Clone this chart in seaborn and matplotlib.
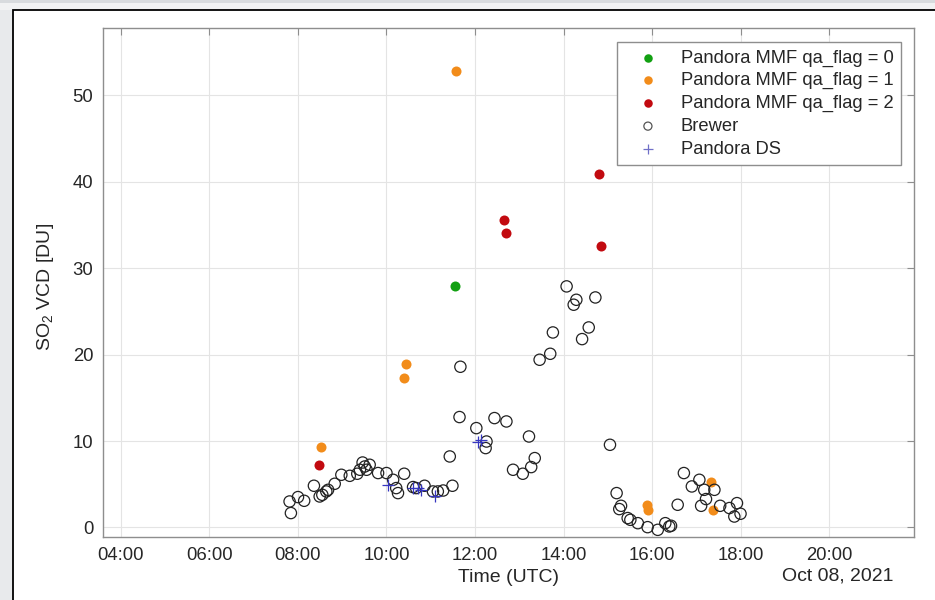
import numpy as np
import pandas as pd
import matplotlib
matplotlib.use("Agg")
import matplotlib.pyplot as plt
import matplotlib.dates as mdates
from matplotlib.patches import Rectangle
import seaborn as sns

# ---------------- data (hours UTC on Oct 08, 2021 ; SO2 VCD in DU) ----------------
qa0_hours = [11.54]
qa0_vcd = [27.97]

qa1_hours = [8.53, 10.43, 10.39, 11.58, 15.88, 15.92, 17.33, 17.37]
qa1_vcd = [9.26, 18.95, 17.33, 52.86, 2.63, 2.06, 5.32, 2.05]

qa2_hours = [8.48, 12.65, 12.71, 14.81, 14.85]
qa2_vcd = [7.26, 35.6, 34.07, 40.94, 32.6]

brewer_hours = [7.81, 7.84, 8.00, 8.14, 8.36, 8.49, 8.55, 8.64, 8.68, 8.83,
                8.98, 9.17, 9.34, 9.40, 9.46, 9.51, 9.55, 9.62, 9.81, 10.00,
                10.15, 10.22, 10.26, 10.40, 10.60, 10.67, 10.86, 11.05, 11.16, 11.28,
                11.49, 11.43, 11.65, 11.67, 12.03, 12.26, 12.24, 12.44, 12.71, 12.86,
                13.08, 13.22, 13.27, 13.35, 13.46, 13.70, 13.76, 14.07, 14.23, 14.29,
                14.42, 14.57, 14.72, 15.05, 15.20, 15.26, 15.30, 15.45, 15.51, 15.68,
                15.90, 16.13, 16.30, 16.39, 16.43, 16.58, 16.72, 16.90, 17.07, 17.11,
                17.18, 17.22, 17.41, 17.54, 17.75, 17.86, 17.92, 18.00]
brewer_vcd = [3.01, 1.67, 3.52, 3.09, 4.83, 3.59, 3.78, 4.17, 4.36, 5.06,
              6.10, 5.98, 6.22, 6.68, 7.52, 7.06, 6.68, 7.26, 6.30, 6.30,
              5.52, 4.56, 3.98, 6.22, 4.68, 4.56, 4.83, 4.17, 4.17, 4.28,
              4.83, 8.22, 12.78, 18.60, 11.50, 9.95, 9.19, 12.66, 12.27, 6.68,
              6.22, 10.53, 6.99, 8.03, 19.41, 20.10, 22.57, 27.90, 25.78, 26.35,
              21.80, 23.15, 26.62, 9.57, 3.98, 2.13, 2.51, 1.09, 0.89, 0.50,
              0.04, -0.27, 0.50, 0.12, 0.20, 2.63, 6.30, 4.75, 5.52, 2.51,
              4.36, 3.29, 4.36, 2.51, 2.25, 1.27, 2.82, 1.59]

ds_hours = [10.03, 10.60, 10.71, 10.79, 11.09, 12.07, 12.14]
ds_vcd = [4.94, 4.56, 4.56, 4.36, 3.59, 9.95, 10.10]

labels = ["Pandora MMF qa_flag = 0", "Pandora MMF qa_flag = 1",
          "Pandora MMF qa_flag = 2", "Brewer", "Pandora DS"]
date_text = "Oct 08, 2021"

base = pd.Timestamp("2021-10-08")


def to_df(h, v):
    return pd.DataFrame({"time": base + pd.to_timedelta(np.array(h), unit="h"),
                         "vcd": v})


# ---------------- style ----------------
sns.set_theme(style="white")
plt.rcParams["font.family"] = ["Liberation Sans", "DejaVu Sans"]
plt.rcParams["mathtext.fontset"] = "custom"
plt.rcParams["mathtext.rm"] = "Liberation Sans"
plt.rcParams["mathtext.it"] = "Liberation Sans:italic"

W, H = 935, 600
fig = plt.figure(figsize=(W / 100, H / 100), dpi=100, facecolor="white")

# screenshot-like surroundings
fig.patches.append(Rectangle((0, 0), 13 / W, 1, transform=fig.transFigure,
                             facecolor="#e8eaec", edgecolor="none", zorder=0))
fig.patches.append(Rectangle((0, 1 - 3 / H), 1, 3 / H, transform=fig.transFigure,
                             facecolor="#d8dbde", edgecolor="none", zorder=0))
fig.patches.append(Rectangle((0, 1 - 10 / H), 1, 7 / H, transform=fig.transFigure,
                             facecolor="#f1f2f3", edgecolor="none", zorder=0))
fig.patches.append(Rectangle((13 / W, -0.05), 1.1, 1.05 - 10 / H, transform=fig.transFigure,
                             facecolor="white", edgecolor="black", linewidth=1.3, zorder=1))

L, R, T, B = 103, 914, 28, 537
ax = fig.add_axes([L / W, 1 - B / H, (R - L) / W, (B - T) / H])
ax.set_facecolor("white")
ax.set_zorder(2)

green, orange, red = "#12a012", "#f28c1a", "#c20a10"
blue = "#3535c0"

sns.scatterplot(data=to_df(qa0_hours, qa0_vcd), x="time", y="vcd", ax=ax,
                color=green, s=52, linewidth=0, label=labels[0], zorder=3)
sns.scatterplot(data=to_df(qa1_hours, qa1_vcd), x="time", y="vcd", ax=ax,
                color=orange, s=52, linewidth=0, label=labels[1], zorder=3)
sns.scatterplot(data=to_df(qa2_hours, qa2_vcd), x="time", y="vcd", ax=ax,
                color=red, s=52, linewidth=0, label=labels[2], zorder=3)
sns.scatterplot(data=to_df(brewer_hours, brewer_vcd), x="time", y="vcd", ax=ax,
                marker="o", facecolor="none", edgecolor="#222222", s=66,
                linewidth=0.9, label=labels[3], zorder=4)
sns.scatterplot(data=to_df(ds_hours, ds_vcd), x="time", y="vcd", ax=ax,
                marker="+", color=blue, s=64, linewidth=0.9, label=labels[4], zorder=5)

# axes limits and ticks
ax.set_xlim(base + pd.Timedelta(hours=3.594), base + pd.Timedelta(hours=21.92))
ax.set_ylim(-1.1, 57.8)
ax.xaxis.set_major_locator(mdates.HourLocator(byhour=range(4, 21, 2)))
ax.xaxis.set_major_formatter(mdates.DateFormatter("%H:%M"))
ax.set_yticks([0, 10, 20, 30, 40, 50])

ax.grid(True, color="#e4e4e4", linewidth=0.8)
ax.set_axisbelow(True)
for sp in ax.spines.values():
    sp.set_visible(True)
    sp.set_color("#8e8e8e")
    sp.set_linewidth(1.0)
ax.tick_params(axis="both", which="major", direction="in", length=5, width=0.8,
               color="#8e8e8e", labelsize=13.3, labelcolor="#262626",
               top=True, right=True, pad=7)

ax.set_xlabel("Time (UTC)", fontsize=14, color="#262626")
ax.set_ylabel("SO$_2$ VCD [DU]", fontsize=14, color="#262626")
ax.xaxis.label.set_va("center")
ax.xaxis.set_label_coords(0.5, (B - 577) / (B - T))
ax.yaxis.label.set_va("center")
ax.yaxis.set_label_coords((45 - L) / (R - L), (B - 287) / (B - T))

fig.text(893 / W, 1 - 576 / H, date_text, ha="right", va="center",
         fontsize=14, color="#262626")

leg = ax.legend(loc="upper right", bbox_to_anchor=((901 - L) / (R - L), (B - 42) / (B - T)),
                fontsize=13.2, frameon=True, fancybox=False, framealpha=1,
                edgecolor="#8e8e8e", borderpad=0.4, handlelength=2.6,
                handletextpad=0.5, labelspacing=0.31, markerscale=0.85,
                borderaxespad=0)
leg.get_frame().set_linewidth(1.0)
for t in leg.get_texts():
    t.set_color("#262626")
handles = leg.legend_handles
handles[3].set_sizes([34])
handles[3].set_edgecolor("#555555")
handles[4].set_edgecolor("#7070c8")
handles[4].set_facecolor("#7070c8")

fig.savefig("out.png", dpi=100, facecolor=fig.get_facecolor())
